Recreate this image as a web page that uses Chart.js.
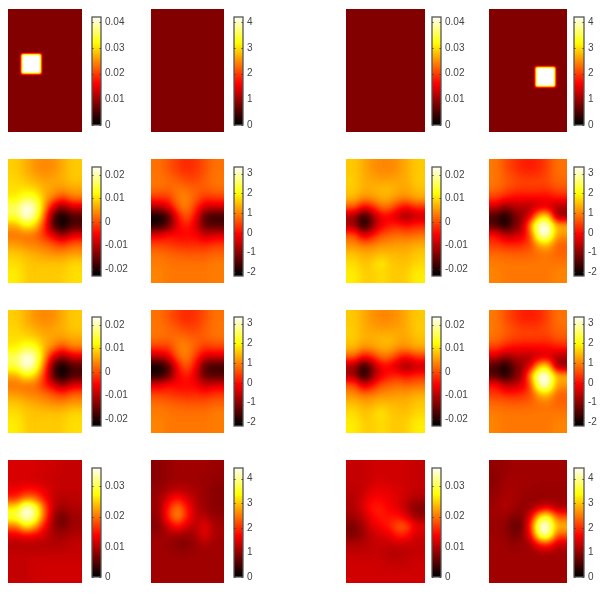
<!DOCTYPE html>
<html>
<head>
<meta charset="utf-8" />
<title>Heat maps</title>
<script src="https://cdn.jsdelivr.net/npm/chart.js@4"></script>
<style>
    html, body { margin: 0; background: #fff; }
    #page { position: relative; width: 600px; height: 599px; overflow: hidden; filter: blur(0.35px); }
    .panel { position: absolute; overflow: hidden; }
    .panel canvas { position: absolute; }
</style>
</head>
<body>
<svg width="0" height="0" style="position:absolute">
    <defs>
        <!-- values are drawn as grey, smoothed, then mapped to the hot colormap -->
        <filter id="hotSoft" x="0" y="0" width="100%" height="100%" color-interpolation-filters="sRGB">
            <feGaussianBlur stdDeviation="4.4" />
            <feComponentTransfer>
                <feFuncR type="table" tableValues="0 .333 .667 1 1 1 1 1 1" />
                <feFuncG type="table" tableValues="0 0 0 0 .333 .667 1 1 1" />
                <feFuncB type="table" tableValues="0 0 0 0 0 0 0 .5 1" />
            </feComponentTransfer>
        </filter>
        <filter id="hotSharp" x="0" y="0" width="100%" height="100%" color-interpolation-filters="sRGB">
            <feGaussianBlur stdDeviation="1" />
            <feComponentTransfer>
                <feFuncR type="table" tableValues="0 .333 .667 1 1 1 1 1 1" />
                <feFuncG type="table" tableValues="0 0 0 0 .333 .667 1 1 1" />
                <feFuncB type="table" tableValues="0 0 0 0 0 0 0 .5 1" />
            </feComponentTransfer>
        </filter>
    </defs>
</svg>
<div id="page"></div>
<script>
    // colorbar ranges, one per row / column pair
    const rangeRow1A = [0, 0.042];
    const rangeRow1B = [0, 4.2];
    const rangeMidA = [-0.023, 0.0233];
    const rangeMidB = [-2.18, 3.34];
    const rangeRow4A = [0, 0.0361];
    const rangeRow4B = [0, 4.43];

    const ticksRow1A = ['0', '0.01', '0.02', '0.03', '0.04'];
    const ticksRow1B = ['0', '1', '2', '3', '4'];
    const ticksMidA = ['-0.02', '-0.01', '0', '0.01', '0.02'];
    const ticksMidB = ['-2', '-1', '0', '1', '2', '3'];
    const ticksRow4A = ['0', '0.01', '0.02', '0.03'];
    const ticksRow4B = ['0', '1', '2', '3', '4'];

    // flat level of the top row, and the hot square in columns 1 and 4
    const flatLevelA = 0.008;
    const flatLevelB = 0.8;
    const squareLeft = { col: 1.5, row: 4.8, half: 1.08, value: 0.042 };
    const squareRight = { col: 5.6, row: 6.17, half: 1.16, value: 4.2 };

    const midCol1 = [
        [.0085, .0065, .0045, .0035, .004, .006, .008],
        [.009, .0075, .006, .005, .0055, .0065, .008],
        [.0095, .0095, .0085, .0065, .0055, .005, .006],
        [.0105, .0145, .0135, .007, .003, -.001, .003],
        [.016, .0233, .02, .006, -.008, -.014, -.008],
        [.015, .0233, .018, .002, -.018, -.023, -.018],
        [.006, .012, .009, -.002, -.018, -.023, -.018],
        [.002, .002, .002, -.003, -.008, -.014, -.008],
        [.005, .0035, .003, .002, .0, -.002, .001],
        [.008, .007, .006, .005, .004, .004, .005],
        [.0095, .008, .0075, .0075, .0075, .0075, .009],
        [.0105, .0085, .008, .0085, .008, .0085, .0095]
    ];
    const midCol2 = [
        [.8, .6, .35, .2, .3, .55, .8],
        [.85, .75, .6, .45, .45, .65, .85],
        [.8, .75, .85, .75, .65, .65, .8],
        [.35, .35, .9, 1.0, .65, .3, .4],
        [-.7, -.3, .7, 1.0, .3, -.5, -.5],
        [-2.1, -1.6, .0, .7, -.1, -1.6, -1.7],
        [-1.9, -1.4, -.2, .2, -.4, -1.4, -1.5],
        [-.3, .0, -.1, -.1, -.1, -.6, -.4],
        [.45, .35, .25, .2, .25, .15, .35],
        [.8, .7, .65, .6, .6, .6, .7],
        [.9, .85, .8, .8, .8, .8, .9],
        [.95, .85, .85, .85, .85, .85, .9]
    ];
    const midCol3 = [
        [.008, .006, .0045, .0035, .0035, .0045, .006, .008],
        [.0085, .006, .0055, .005, .005, .0055, .006, .0085],
        [.0085, .0065, .0065, .007, .0075, .006, .0055, .0075],
        [.007, .004, .005, .0065, .0065, .0045, .004, .006],
        [.001, -.006, -.003, .002, .002, -.003, -.006, -.002],
        [-.012, -.022, -.014, -.006, -.006, -.010, -.013, -.010],
        [-.012, -.023, -.014, -.007, -.004, -.003, -.005, -.003],
        [.0, -.009, -.005, .0, .001, .002, .001, .002],
        [.004, .002, .003, .004, .0045, .005, .005, .006],
        [.0075, .006, .006, .0075, .007, .007, .0065, .008],
        [.0095, .0075, .0085, .0105, .0085, .0075, .0075, .009],
        [.0105, .0085, .0085, .0095, .0085, .008, .0085, .0105]
    ];
    const midCol4 = [
        [.85, .55, .3, .15, .1, .2, .45, .8],
        [.85, .65, .5, .4, .4, .4, .5, .75],
        [.8, .6, .45, .4, .4, .4, .35, .6],
        [.4, .1, -.05, -.1, -.1, -.1, -.1, .1],
        [-.5, -1.1, -.7, -.7, -.8, -.5, -.4, -.8],
        [-1.6, -2.1, -1.3, -1.0, -.3, 1.6, 1.9, -1.0],
        [-1.5, -2.1, -1.3, -.9, 1.3, 3.34, 3.34, 1.4],
        [.0, -.7, -.6, -.4, .5, 3.1, 3.3, 1.1],
        [.35, .2, .15, .25, .45, 1.3, 1.5, .65],
        [.75, .7, .65, .65, .7, .8, .85, .7],
        [.9, .85, .85, .85, .85, .85, .85, .85],
        [.95, .85, .85, .85, .85, .85, .85, .95]
    ];
    const lastCol1 = [
        [.0115, .0115, .0115, .011, .011, .0105, .0105],
        [.0115, .0115, .011, .011, .0105, .0105, .0105],
        [.0125, .0135, .0135, .012, .011, .0105, .0105],
        [.0155, .02, .019, .014, .0105, .0095, .01],
        [.026, .0361, .031, .019, .01, .0085, .0095],
        [.03, .0361, .032, .019, .008, .0055, .0085],
        [.02, .028, .023, .014, .008, .006, .0085],
        [.012, .0135, .013, .011, .009, .0085, .0095],
        [.0095, .0095, .0095, .0095, .0095, .0095, .0105],
        [.0105, .0105, .0105, .0105, .0105, .0105, .0105],
        [.0105, .0105, .011, .011, .011, .011, .011],
        [.0105, .0105, .011, .011, .011, .011, .011]
    ];
    const lastCol2 = [
        [.9, 1.0, 1.05, 1.05, 1.05, 1.05, 1.0],
        [.9, 1.0, 1.05, 1.05, 1.05, 1.0, .95],
        [.95, 1.1, 1.2, 1.15, 1.1, 1.0, .9],
        [1.0, 1.5, 1.75, 1.45, 1.15, 1.0, .9],
        [1.0, 1.9, 2.5, 1.8, 1.2, 1.0, .9],
        [.95, 2.0, 2.7, 1.9, 1.25, 1.2, .95],
        [.85, 1.4, 1.85, 1.4, 1.2, 1.6, 1.1],
        [1.0, 1.1, 1.05, .95, 1.1, 1.55, 1.1],
        [1.05, 1.0, .85, .85, 1.0, 1.15, 1.05],
        [1.05, 1.05, 1.0, 1.0, 1.05, 1.05, 1.05],
        [1.05, 1.05, 1.05, 1.05, 1.05, 1.05, 1.05],
        [1.05, 1.05, 1.05, 1.05, 1.05, 1.05, 1.05]
    ];
    const lastCol3 = [
        [.0105, .0105, .011, .011, .011, .011, .011, .0105],
        [.0105, .0105, .011, .0115, .011, .011, .011, .0105],
        [.01, .0105, .012, .0125, .012, .0115, .011, .0105],
        [.0095, .0115, .0135, .0135, .0125, .012, .0105, .0095],
        [.0095, .012, .015, .015, .013, .012, .0095, .007],
        [.0085, .0105, .0135, .015, .0145, .0145, .012, .008],
        [.0065, .009, .012, .0135, .015, .0185, .0185, .0125],
        [.007, .0085, .0105, .0115, .012, .0155, .0145, .011],
        [.0095, .0095, .0105, .0105, .0105, .0105, .0105, .0105],
        [.0105, .0105, .0105, .0105, .0095, .0095, .01, .0105],
        [.011, .011, .011, .011, .0105, .0105, .0105, .011],
        [.011, .011, .011, .011, .011, .011, .011, .011]
    ];
    const lastCol4 = [
        [.95, 1.0, 1.05, 1.05, 1.05, 1.05, 1.05, 1.05],
        [.9, 1.05, 1.1, 1.05, 1.05, 1.05, 1.05, 1.05],
        [.95, 1.1, 1.1, 1.05, 1.05, 1.0, 1.0, 1.0],
        [1.0, 1.15, 1.1, 1.0, .95, .95, .95, 1.0],
        [1.05, 1.2, 1.05, .95, 1.0, 1.25, 1.5, 1.1],
        [1.05, 1.05, .85, .85, 1.5, 3.2, 3.7, 2.2],
        [1.0, .95, .65, .7, 2.0, 4.43, 4.43, 2.9],
        [1.05, 1.0, .75, .9, 1.6, 3.8, 4.2, 2.2],
        [1.05, 1.05, .95, 1.0, 1.05, 1.7, 1.9, 1.25],
        [1.05, 1.05, 1.05, 1.05, 1.05, 1.05, 1.05, 1.05],
        [1.05, 1.05, 1.05, 1.05, 1.05, 1.05, 1.05, 1.05],
        [1.05, 1.05, 1.05, 1.05, 1.05, 1.05, 1.05, 1.05]
    ];

    // page layout in pixels
    const colX = [[8, 81.7], [151, 224], [346.3, 424.7], [488.7, 566.7]];
    const rowY = [[8.5, 132], [159.3, 282.7], [309.5, 433.2], [460.3, 583.5]];
    const barX = [[92, 100.3], [234.3, 242.3], [432.3, 440.3], [574.3, 583]];
    const barY = [[14.7, 127], [164.7, 277.3], [315.3, 428], [465.7, 578.7]];
    const ring = 2; // extra cells round a panel so the blur does not fade at the edge
    const rows = 12;

    const page = document.getElementById('page');
    Chart.defaults.animation = false;
    Chart.defaults.responsive = false;
    Chart.defaults.plugins.legend.display = false;
    Chart.defaults.plugins.tooltip.enabled = false;

    function hot(t) {
        const r = Math.min(1, t / 0.375);
        const g = Math.max(0, Math.min(1, (t - 0.375) / 0.375));
        const b = Math.max(0, (t - 0.75) / 0.25);
        return `rgb(${Math.round(r * 255)},${Math.round(g * 255)},${Math.round(b * 255)})`;
    }

    function grey(v, range) {
        const t = Math.max(0, Math.min(1, (v - range[0]) / (range[1] - range[0])));
        const c = Math.round(t * 255);
        return `rgb(${c},${c},${c})`;
    }

    function addCanvas(parent, left, top, w, h) {
        const c = document.createElement('canvas');
        c.width = w;
        c.height = h;
        c.style.left = left + 'px';
        c.style.top = top + 'px';
        c.style.position = 'absolute';
        parent.appendChild(c);
        return c;
    }

    function drawPanel(ri, ci, grid, range, square) {
        const [x0, x1] = colX[ci];
        const [y0, y1] = rowY[ri];
        const cols = grid[0].length;
        const cw = (x1 - x0) / cols;
        const ch = (y1 - y0) / rows;

        const box = document.createElement('div');
        box.className = 'panel';
        box.style.cssText = `left:${x0}px;top:${y0}px;width:${x1 - x0}px;height:${y1 - y0}px`;
        page.appendChild(box);

        const w = Math.round((cols + 2 * ring) * cw);
        const h = Math.round((rows + 2 * ring) * ch);
        const canvas = addCanvas(box, -ring * cw, -ring * ch, w, h);
        canvas.style.filter = square !== undefined ? 'url(#hotSharp)' : 'url(#hotSoft)';

        const points = [];
        const colors = [];
        for (let j = -ring; j < rows + ring; j++) {
            for (let i = -ring; i < cols + ring; i++) {
                const rowVals = grid[Math.max(0, Math.min(rows - 1, j))];
                points.push({ x: i, y: j });
                colors.push(grey(rowVals[Math.max(0, Math.min(cols - 1, i))], range));
            }
        }
        const datasets = [{
            data: points,
            order: 2,
            pointStyle: 'rect',
            pointRadius: Math.max(cw, ch) * 0.72,
            pointBorderWidth: 0,
            backgroundColor: colors
        }];
        if (square) {
            datasets.push({
                data: [{ x: square.col, y: square.row }],
                order: 1,
                pointStyle: 'rect',
                pointRadius: ctx => {
                    const s = ctx.chart.scales.x;
                    return (s.getPixelForValue(square.col + square.half) - s.getPixelForValue(square.col)) * Math.SQRT2;
                },
                pointBorderWidth: 0,
                backgroundColor: grey(square.value, range)
            });
        }
        new Chart(canvas, {
            type: 'scatter',
            data: { datasets },
            options: {
                layout: { padding: 0 },
                scales: {
                    x: { display: false, min: -ring - 0.5, max: cols + ring - 0.5 },
                    y: { display: false, reverse: true, min: -ring - 0.5, max: rows + ring - 0.5 }
                }
            }
        });
    }

    const barFrame = {
        id: 'barFrame',
        afterDraw(chart) {
            const { ctx, chartArea: a, scales } = chart;
            ctx.save();
            ctx.strokeStyle = '#333';
            ctx.lineWidth = 1;
            scales.y.ticks.forEach((t, i) => {
                const py = Math.round(scales.y.getPixelForTick(i)) + 0.5;
                ctx.beginPath();
                ctx.moveTo(a.left, py); ctx.lineTo(a.left + 1.5, py);
                ctx.moveTo(a.right, py); ctx.lineTo(a.right - 1.5, py);
                ctx.stroke();
            });
            ctx.strokeStyle = '#555';
            ctx.lineWidth = 1.3;
            ctx.strokeRect(a.left, a.top, a.right - a.left, a.bottom - a.top);
            ctx.restore();
        }
    };

    function drawBar(ri, ci, range, ticks) {
        const [x0, x1] = barX[ci];
        const [y0, y1] = barY[ri];
        const pad = 8;
        const barW = x1 - x0;
        const labelW = 40;
        const canvas = addCanvas(page, x0 - 1, y0 - pad, Math.round(barW + labelW + 2), Math.round(y1 - y0 + 2 * pad));
        const levels = 64;
        const step = (range[1] - range[0]) / levels;
        const datasets = [];
        for (let k = 0; k < levels; k++) {
            const lo = range[0] + k * step;
            datasets.push({
                data: [[lo, Math.min(range[1], lo + step * 1.4)]],
                backgroundColor: hot((k + 0.5) / levels),
                barPercentage: 1,
                categoryPercentage: 1,
                grouped: false,
                borderWidth: 0
            });
        }
        new Chart(canvas, {
            type: 'bar',
            data: { labels: [''], datasets },
            plugins: [barFrame],
            options: {
                layout: { padding: { top: pad, bottom: pad, left: 1, right: 0 } },
                scales: {
                    x: { display: false },
                    y: {
                        position: 'right',
                        min: range[0],
                        max: range[1],
                        afterFit: s => { s.width = labelW; },
                        afterBuildTicks: s => { s.ticks = ticks.map(v => ({ value: Number(v), label: v })); },
                        grid: { display: false, drawTicks: false },
                        border: { display: false },
                        ticks: {
                            padding: 4,
                            autoSkip: false,
                            color: '#444',
                            font: { family: '"Liberation Sans", Arial, sans-serif', size: 10 },
                            callback: function (v) { return ticks.find(t => Number(t) === v); }
                        }
                    }
                }
            }
        });
    }

    const panels = [
        [0, 0, flatLevelA, rangeRow1A, ticksRow1A, squareLeft],
        [0, 1, flatLevelB, rangeRow1B, ticksRow1B, null],
        [0, 2, flatLevelA, rangeRow1A, ticksRow1A, null],
        [0, 3, flatLevelB, rangeRow1B, ticksRow1B, squareRight],
        [1, 0, midCol1, rangeMidA, ticksMidA],
        [1, 1, midCol2, rangeMidB, ticksMidB],
        [1, 2, midCol3, rangeMidA, ticksMidA],
        [1, 3, midCol4, rangeMidB, ticksMidB],
        [2, 0, midCol1, rangeMidA, ticksMidA],
        [2, 1, midCol2, rangeMidB, ticksMidB],
        [2, 2, midCol3, rangeMidA, ticksMidA],
        [2, 3, midCol4, rangeMidB, ticksMidB],
        [3, 0, lastCol1, rangeRow4A, ticksRow4A],
        [3, 1, lastCol2, rangeRow4B, ticksRow4B],
        [3, 2, lastCol3, rangeRow4A, ticksRow4A],
        [3, 3, lastCol4, rangeRow4B, ticksRow4B]
    ];

    panels.forEach(([ri, ci, values, range, ticks, square]) => {
        let grid = values;
        if (typeof values === 'number') {
            grid = Array.from({ length: rows }, () => Array(ci < 2 ? 7 : 8).fill(values));
        }
        drawPanel(ri, ci, grid, range, square);
        drawBar(ri, ci, range, ticks);
    });
</script>
</body>
</html>
